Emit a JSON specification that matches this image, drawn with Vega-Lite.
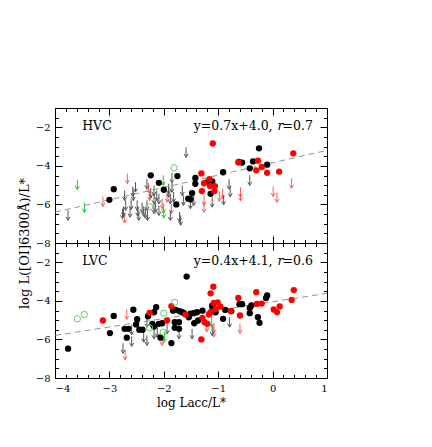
{
  "$schema": "https://vega.github.io/schema/vega-lite/v6.json",
  "padding": {"left": 17, "top": 107, "right": 5, "bottom": 5},
  "config": {
    "view": {"stroke": "black", "strokeWidth": 1},
    "font": "DejaVu Serif",
    "axis": {"labelFont": "DejaVu Serif", "titleFont": "DejaVu Serif", "labelFontSize": 10, "titleFontSize": 13, "titleFontWeight": "normal", "labelColor": "black", "titleColor": "black", "tickColor": "black", "domain": false, "grid": false, "format": "~g"}
  },
  "datasets": {
    "fit": [
      {"p": "HVC", "x": -4, "y": -6.40}, {"p": "HVC", "x": 1, "y": -3.20},
      {"p": "LVC", "x": -4, "y": -5.79}, {"p": "LVC", "x": 1, "y": -3.61}
    ],
    "lab": [
      {"p": "HVC", "name": "HVC", "eq": "y=0.7x+4.0,", "r": "r", "rv": "=0.7"},
      {"p": "LVC", "name": "LVC", "eq": "y=0.4x+4.1,", "r": "r", "rv": "=0.6"}
    ],
    "pts": [
      {"p":"HVC","c":"k","x":-3.00,"y":-5.76},{"p":"HVC","c":"k","x":-2.92,"y":-5.21},{"p":"HVC","c":"k","x":-2.24,"y":-4.49},{"p":"HVC","c":"k","x":-2.09,"y":-4.88},{"p":"HVC","c":"k","x":-2.00,"y":-5.24},{"p":"HVC","c":"k","x":-1.75,"y":-4.53},{"p":"HVC","c":"k","x":-1.77,"y":-6.00},{"p":"HVC","c":"k","x":-1.55,"y":-5.70},{"p":"HVC","c":"k","x":-1.51,"y":-5.73},{"p":"HVC","c":"k","x":-1.48,"y":-5.41},{"p":"HVC","c":"k","x":-1.42,"y":-4.63},{"p":"HVC","c":"k","x":-1.42,"y":-4.93},{"p":"HVC","c":"k","x":-1.20,"y":-4.84},{"p":"HVC","c":"k","x":-1.11,"y":-4.81},{"p":"HVC","c":"k","x":-1.14,"y":-5.45},{"p":"HVC","c":"k","x":-0.91,"y":-4.33},{"p":"HVC","c":"k","x":-0.62,"y":-3.80},{"p":"HVC","c":"k","x":-0.56,"y":-3.83},{"p":"HVC","c":"k","x":-0.36,"y":-3.77},{"p":"HVC","c":"k","x":-0.25,"y":-3.09},{"p":"HVC","c":"k","x":-0.10,"y":-3.94},{"p":"HVC","c":"k","x":-0.42,"y":-4.13},
      {"p":"HVC","c":"r","x":-1.10,"y":-2.84},{"p":"HVC","c":"r","x":0.38,"y":-3.35},{"p":"HVC","c":"r","x":-0.63,"y":-3.82},{"p":"HVC","c":"r","x":-0.27,"y":-3.73},{"p":"HVC","c":"r","x":-0.20,"y":-4.06},{"p":"HVC","c":"r","x":-0.30,"y":-4.23},{"p":"HVC","c":"r","x":-0.10,"y":-4.36},{"p":"HVC","c":"r","x":0.12,"y":-4.30},{"p":"HVC","c":"r","x":-1.31,"y":-4.39},{"p":"HVC","c":"r","x":-1.16,"y":-4.69},{"p":"HVC","c":"r","x":-1.26,"y":-4.90},{"p":"HVC","c":"r","x":-1.15,"y":-5.05},{"p":"HVC","c":"r","x":-1.06,"y":-5.05},{"p":"HVC","c":"r","x":-1.30,"y":-5.31},{"p":"HVC","c":"r","x":-1.07,"y":-5.31},
      {"p":"HVC","c":"g","x":-1.81,"y":-4.10},{"p":"HVC","c":"g","x":-2.26,"y":-6.12},
      {"p":"HVC","c":"ug","x":-3.59,"y":-4.97},{"p":"HVC","c":"ug","x":-3.46,"y":-6.15},{"p":"HVC","c":"ug","x":-2.01,"y":-4.75},{"p":"HVC","c":"ug","x":-2.01,"y":-6.20},{"p":"HVC","c":"ug","x":-2.00,"y":-6.45},
      {"p":"HVC","c":"ur","x":-3.12,"y":-5.85},{"p":"HVC","c":"ur","x":-2.67,"y":-4.66},{"p":"HVC","c":"ur","x":-2.72,"y":-6.70},{"p":"HVC","c":"ur","x":-2.28,"y":-5.14},{"p":"HVC","c":"ur","x":-2.26,"y":-5.54},{"p":"HVC","c":"ur","x":-2.03,"y":-5.96},{"p":"HVC","c":"ur","x":-1.94,"y":-5.62},{"p":"HVC","c":"ur","x":-1.86,"y":-6.22},{"p":"HVC","c":"ur","x":-1.26,"y":-5.79},{"p":"HVC","c":"ur","x":-1.26,"y":-6.15},{"p":"HVC","c":"ur","x":-0.98,"y":-5.58},{"p":"HVC","c":"ur","x":-0.92,"y":-5.45},{"p":"HVC","c":"ur","x":-0.59,"y":-5.37},{"p":"HVC","c":"ur","x":-0.59,"y":-5.56},{"p":"HVC","c":"ur","x":0.35,"y":-4.90},{"p":"HVC","c":"ur","x":0.01,"y":-5.33},{"p":"HVC","c":"ur","x":0.08,"y":-5.64},
      {"p":"HVC","c":"uk","x":-3.76,"y":-6.57},{"p":"HVC","c":"uk","x":-2.52,"y":-5.10},{"p":"HVC","c":"uk","x":-2.57,"y":-5.33},{"p":"HVC","c":"uk","x":-2.56,"y":-5.54},{"p":"HVC","c":"uk","x":-2.72,"y":-5.54},{"p":"HVC","c":"uk","x":-2.74,"y":-6.36},{"p":"HVC","c":"uk","x":-2.70,"y":-6.05},{"p":"HVC","c":"uk","x":-2.60,"y":-6.00},{"p":"HVC","c":"uk","x":-2.49,"y":-6.05},{"p":"HVC","c":"uk","x":-2.48,"y":-6.35},{"p":"HVC","c":"uk","x":-2.40,"y":-6.17},{"p":"HVC","c":"uk","x":-2.37,"y":-6.35},{"p":"HVC","c":"uk","x":-2.62,"y":-6.40},{"p":"HVC","c":"uk","x":-2.76,"y":-6.48},{"p":"HVC","c":"uk","x":-2.46,"y":-6.57},{"p":"HVC","c":"uk","x":-2.34,"y":-6.45},{"p":"HVC","c":"uk","x":-2.31,"y":-4.93},{"p":"HVC","c":"uk","x":-2.24,"y":-5.40},{"p":"HVC","c":"uk","x":-2.18,"y":-5.28},{"p":"HVC","c":"uk","x":-2.13,"y":-5.54},{"p":"HVC","c":"uk","x":-2.18,"y":-5.71},{"p":"HVC","c":"uk","x":-2.09,"y":-5.71},{"p":"HVC","c":"uk","x":-2.31,"y":-6.05},{"p":"HVC","c":"uk","x":-2.15,"y":-6.14},{"p":"HVC","c":"uk","x":-2.09,"y":-6.31},{"p":"HVC","c":"uk","x":-2.18,"y":-6.22},{"p":"HVC","c":"uk","x":-2.30,"y":-6.57},{"p":"HVC","c":"uk","x":-1.91,"y":-5.19},{"p":"HVC","c":"uk","x":-1.91,"y":-5.37},{"p":"HVC","c":"uk","x":-1.85,"y":-5.11},{"p":"HVC","c":"uk","x":-1.82,"y":-5.62},{"p":"HVC","c":"uk","x":-1.88,"y":-5.71},{"p":"HVC","c":"uk","x":-1.85,"y":-4.62},{"p":"HVC","c":"uk","x":-1.66,"y":-5.28},{"p":"HVC","c":"uk","x":-1.64,"y":-5.79},{"p":"HVC","c":"uk","x":-1.88,"y":-6.57},{"p":"HVC","c":"uk","x":-1.71,"y":-6.65},{"p":"HVC","c":"uk","x":-1.69,"y":-6.82},{"p":"HVC","c":"uk","x":-1.51,"y":-5.96},{"p":"HVC","c":"uk","x":-1.45,"y":-5.79},{"p":"HVC","c":"uk","x":-1.11,"y":-5.88},{"p":"HVC","c":"uk","x":-1.59,"y":-3.30},{"p":"HVC","c":"uk","x":-0.90,"y":-5.76},{"p":"HVC","c":"uk","x":-0.80,"y":-4.95},{"p":"HVC","c":"uk","x":-0.78,"y":-5.35},{"p":"HVC","c":"uk","x":-0.42,"y":-4.75},
      {"p":"LVC","c":"k","x":-3.76,"y":-6.48},{"p":"LVC","c":"k","x":-2.99,"y":-5.67},{"p":"LVC","c":"k","x":-2.92,"y":-4.78},{"p":"LVC","c":"k","x":-2.56,"y":-4.46},{"p":"LVC","c":"k","x":-2.72,"y":-5.45},{"p":"LVC","c":"k","x":-2.65,"y":-5.45},{"p":"LVC","c":"k","x":-2.68,"y":-5.91},{"p":"LVC","c":"k","x":-2.49,"y":-4.95},{"p":"LVC","c":"k","x":-2.51,"y":-5.22},{"p":"LVC","c":"k","x":-2.45,"y":-5.50},{"p":"LVC","c":"k","x":-2.39,"y":-5.50},{"p":"LVC","c":"k","x":-2.29,"y":-4.80},{"p":"LVC","c":"k","x":-2.14,"y":-4.33},{"p":"LVC","c":"k","x":-2.18,"y":-4.59},{"p":"LVC","c":"k","x":-2.21,"y":-5.19},{"p":"LVC","c":"k","x":-2.18,"y":-5.33},{"p":"LVC","c":"k","x":-2.09,"y":-5.19},{"p":"LVC","c":"k","x":-2.03,"y":-5.16},{"p":"LVC","c":"k","x":-2.06,"y":-5.91},{"p":"LVC","c":"k","x":-1.86,"y":-6.19},{"p":"LVC","c":"k","x":-1.83,"y":-4.51},{"p":"LVC","c":"k","x":-1.78,"y":-4.47},{"p":"LVC","c":"k","x":-1.71,"y":-4.54},{"p":"LVC","c":"k","x":-1.66,"y":-4.59},{"p":"LVC","c":"k","x":-1.63,"y":-4.64},{"p":"LVC","c":"k","x":-1.54,"y":-4.85},{"p":"LVC","c":"k","x":-1.58,"y":-2.74},{"p":"LVC","c":"k","x":-1.80,"y":-5.11},{"p":"LVC","c":"k","x":-1.72,"y":-5.11},{"p":"LVC","c":"k","x":-1.80,"y":-5.40},{"p":"LVC","c":"k","x":-1.72,"y":-5.45},{"p":"LVC","c":"k","x":-1.51,"y":-4.67},{"p":"LVC","c":"k","x":-1.45,"y":-4.64},{"p":"LVC","c":"k","x":-1.39,"y":-4.59},{"p":"LVC","c":"k","x":-1.29,"y":-4.51},{"p":"LVC","c":"k","x":-1.44,"y":-5.16},{"p":"LVC","c":"k","x":-1.37,"y":-5.02},{"p":"LVC","c":"k","x":-1.11,"y":-4.25},{"p":"LVC","c":"k","x":-1.10,"y":-4.39},{"p":"LVC","c":"k","x":-1.05,"y":-4.59},{"p":"LVC","c":"k","x":-0.91,"y":-4.93},{"p":"LVC","c":"k","x":-0.87,"y":-4.47},{"p":"LVC","c":"k","x":-0.76,"y":-4.54},{"p":"LVC","c":"k","x":-0.61,"y":-4.17},{"p":"LVC","c":"k","x":-0.56,"y":-4.17},{"p":"LVC","c":"k","x":-0.39,"y":-4.24},{"p":"LVC","c":"k","x":-0.42,"y":-4.37},{"p":"LVC","c":"k","x":-0.42,"y":-4.64},{"p":"LVC","c":"k","x":-0.27,"y":-4.85},{"p":"LVC","c":"k","x":-0.24,"y":-5.14},{"p":"LVC","c":"k","x":-0.10,"y":-3.72},{"p":"LVC","c":"k","x":-0.12,"y":-3.85},
      {"p":"LVC","c":"r","x":-3.12,"y":-5.02},{"p":"LVC","c":"r","x":-2.26,"y":-4.62},{"p":"LVC","c":"r","x":-1.94,"y":-5.02},{"p":"LVC","c":"r","x":-1.86,"y":-4.28},{"p":"LVC","c":"r","x":-1.60,"y":-4.71},{"p":"LVC","c":"r","x":-1.09,"y":-3.27},{"p":"LVC","c":"r","x":-1.14,"y":-3.61},{"p":"LVC","c":"r","x":-1.08,"y":-4.11},{"p":"LVC","c":"r","x":-1.01,"y":-4.08},{"p":"LVC","c":"r","x":-0.96,"y":-4.30},{"p":"LVC","c":"r","x":-1.05,"y":-4.42},{"p":"LVC","c":"r","x":-1.29,"y":-4.88},{"p":"LVC","c":"r","x":-1.25,"y":-5.11},{"p":"LVC","c":"r","x":-1.20,"y":-5.19},{"p":"LVC","c":"r","x":-1.14,"y":-4.59},{"p":"LVC","c":"r","x":-1.17,"y":-4.71},{"p":"LVC","c":"r","x":-1.31,"y":-6.00},{"p":"LVC","c":"r","x":-0.30,"y":-3.55},{"p":"LVC","c":"r","x":0.39,"y":-3.44},{"p":"LVC","c":"r","x":0.35,"y":-3.95},{"p":"LVC","c":"r","x":-0.63,"y":-3.85},{"p":"LVC","c":"r","x":-0.29,"y":-4.16},{"p":"LVC","c":"r","x":-0.20,"y":-4.14},{"p":"LVC","c":"r","x":0.13,"y":-4.29},{"p":"LVC","c":"r","x":0.02,"y":-4.45},{"p":"LVC","c":"r","x":0.08,"y":-4.58},{"p":"LVC","c":"r","x":-0.77,"y":-4.52},{"p":"LVC","c":"r","x":-0.60,"y":-4.76},
      {"p":"LVC","c":"g","x":-3.59,"y":-4.93},{"p":"LVC","c":"g","x":-3.46,"y":-4.71},{"p":"LVC","c":"g","x":-2.26,"y":-5.40},{"p":"LVC","c":"g","x":-2.00,"y":-4.64},{"p":"LVC","c":"g","x":-2.01,"y":-5.62},{"p":"LVC","c":"g","x":-1.80,"y":-4.08},
      {"p":"LVC","c":"ug","x":-1.99,"y":-5.88},{"p":"LVC","c":"ug","x":-1.12,"y":-5.10},
      {"p":"LVC","c":"ur","x":-2.68,"y":-4.70},{"p":"LVC","c":"ur","x":-2.71,"y":-6.80},{"p":"LVC","c":"ur","x":-2.03,"y":-6.05},{"p":"LVC","c":"ur","x":-1.21,"y":-5.35},{"p":"LVC","c":"ur","x":-1.08,"y":-5.42},{"p":"LVC","c":"ur","x":-1.08,"y":-5.62},{"p":"LVC","c":"ur","x":-0.60,"y":-5.43},
      {"p":"LVC","c":"uk","x":-2.59,"y":-5.50},{"p":"LVC","c":"uk","x":-2.59,"y":-6.10},{"p":"LVC","c":"uk","x":-2.75,"y":-6.46},{"p":"LVC","c":"uk","x":-2.37,"y":-5.88},{"p":"LVC","c":"uk","x":-2.31,"y":-6.05},{"p":"LVC","c":"uk","x":-2.31,"y":-5.11},{"p":"LVC","c":"uk","x":-2.18,"y":-5.71},{"p":"LVC","c":"uk","x":-2.12,"y":-5.62},{"p":"LVC","c":"uk","x":-1.94,"y":-5.45},{"p":"LVC","c":"uk","x":-1.72,"y":-5.71},{"p":"LVC","c":"uk","x":-1.48,"y":-5.71},{"p":"LVC","c":"uk","x":-1.11,"y":-5.54},{"p":"LVC","c":"uk","x":-0.79,"y":-5.10}
    ]
  },
  "spacing": 0,
  "bounds": "flush",
  "vconcat": [
    {
      "width": 272, "height": 135,
      "resolve": {"axis": {"x": "independent", "y": "independent"}},
      "layer": [
        {
          "data": {"name": "pts"},
          "transform": [{"filter": "datum.p === 'HVC' && (datum.c === 'uk' || datum.c === 'ur' || datum.c === 'ug')"}],
          "mark": {"type": "point", "filled": false, "strokeWidth": 1, "size": 100, "opacity": 1},
          "encoding": {
            "x": {"field": "x", "type": "quantitative", "scale": {"domain": [-4, 1], "nice": false, "zero": false},
                  "axis": {"orient": "bottom", "labels": false, "title": null, "values": [-4,-3.8,-3.6,-3.4,-3.2,-3,-2.8,-2.6,-2.4,-2.2,-2,-1.8,-1.6,-1.4,-1.2,-1,-0.8,-0.6,-0.4,-0.2,0,0.2,0.4,0.6,0.8,1],
                           "tickSize": {"condition": {"test": "abs(datum.value - round(datum.value)) < 0.001", "value": -7}, "value": -3.5}}},
            "y": {"field": "y", "type": "quantitative", "scale": {"domain": [-8, -1], "nice": false, "zero": false},
                  "axis": {"orient": "left", "values": [-8,-7.5,-7,-6.5,-6,-5.5,-5,-4.5,-4,-3.5,-3,-2.5,-2,-1.5,-1],
                           "labelExpr": "abs(datum.value/2 - round(datum.value/2)) < 0.001 ? datum.label : ''",
                           "tickSize": {"condition": {"test": "abs(datum.value/2 - round(datum.value/2)) < 0.001", "value": -7}, "value": -3.5},
                           "labelPadding": 12,
                           "title": "log L([OI]6300Å)/L*", "titleY": 135, "titleX": -24}},
            "color": {"field": "c", "type": "nominal", "legend": null, "scale": {"domain": ["k","r","g","uk","ur","ug"], "range": ["#000000","#ff0000","#66cc66","#555555","#ff5c5c","#22cc22"]}},
            "shape": {"field": "c", "type": "nominal", "legend": null, "scale": {"domain": ["k","r","g","uk","ur","ug"], "range": ["circle","circle","circle","M0,-1L0,1M-0.4,0.3L0,1L0.4,0.3","M0,-1L0,1M-0.4,0.3L0,1L0.4,0.3","M0,-1L0,1M-0.4,0.3L0,1L0.4,0.3"]}}
          }
        },
        {
          "data": {"name": "fit"},
          "transform": [{"filter": "datum.p === 'HVC'"}],
          "mark": {"type": "line", "strokeDash": [6, 4], "color": "#777777", "strokeWidth": 0.8},
          "encoding": {
            "x": {"field": "x", "type": "quantitative",
                  "axis": {"orient": "top", "labels": false, "title": null, "values": [-4,-3.8,-3.6,-3.4,-3.2,-3,-2.8,-2.6,-2.4,-2.2,-2,-1.8,-1.6,-1.4,-1.2,-1,-0.8,-0.6,-0.4,-0.2,0,0.2,0.4,0.6,0.8,1],
                           "tickSize": {"condition": {"test": "abs(datum.value - round(datum.value)) < 0.001", "value": -7}, "value": -3.5}}},
            "y": {"field": "y", "type": "quantitative",
                  "axis": {"orient": "right", "labels": false, "title": null, "values": [-8,-7.5,-7,-6.5,-6,-5.5,-5,-4.5,-4,-3.5,-3,-2.5,-2,-1.5,-1],
                           "tickSize": {"condition": {"test": "abs(datum.value/2 - round(datum.value/2)) < 0.001", "value": -7}, "value": -3.5}}}
          }
        },
        {
          "data": {"name": "pts"},
          "transform": [{"filter": "datum.p === 'HVC' && (datum.c === 'k' || datum.c === 'r')"}],
          "mark": {"type": "point", "filled": true, "size": 40, "opacity": 1},
          "encoding": {
            "x": {"field": "x", "type": "quantitative", "axis": null},
            "y": {"field": "y", "type": "quantitative", "axis": null},
            "color": {"field": "c", "type": "nominal", "legend": null},
            "shape": {"field": "c", "type": "nominal", "legend": null}
          }
        },
        {
          "data": {"name": "pts"},
          "transform": [{"filter": "datum.p === 'HVC' && datum.c === 'g'"}],
          "mark": {"type": "point", "filled": false, "size": 40, "strokeWidth": 1, "opacity": 1},
          "encoding": {
            "x": {"field": "x", "type": "quantitative", "axis": null},
            "y": {"field": "y", "type": "quantitative", "axis": null},
            "color": {"field": "c", "type": "nominal", "legend": null},
            "shape": {"field": "c", "type": "nominal", "legend": null}
          }
        },
        {
          "data": {"name": "lab"},
          "transform": [{"filter": "datum.p === 'HVC'"}],
          "mark": {"type": "text", "align": "left", "baseline": "middle", "fontSize": 12.5, "font": "DejaVu Serif", "color": "black"},
          "encoding": {"x": {"datum": -3.5, "type": "quantitative", "axis": null}, "y": {"datum": -1.95, "type": "quantitative", "axis": null}, "text": {"field": "name"}}
        },
        {
          "data": {"name": "lab"},
          "transform": [{"filter": "datum.p === 'HVC'"}],
          "mark": {"type": "text", "align": "right", "baseline": "middle", "fontSize": 12.5, "font": "DejaVu Serif", "color": "black"},
          "encoding": {"x": {"datum": 0, "type": "quantitative", "axis": null}, "y": {"datum": -1.95, "type": "quantitative", "axis": null}, "text": {"field": "eq"}}
        },
        {
          "data": {"name": "lab"},
          "transform": [{"filter": "datum.p === 'HVC'"}],
          "mark": {"type": "text", "align": "left", "baseline": "middle", "fontSize": 12.5, "font": "DejaVu Serif", "fontStyle": "italic", "color": "black", "dx": 5},
          "encoding": {"x": {"datum": 0, "type": "quantitative", "axis": null}, "y": {"datum": -1.95, "type": "quantitative", "axis": null}, "text": {"field": "r"}}
        },
        {
          "data": {"name": "lab"},
          "transform": [{"filter": "datum.p === 'HVC'"}],
          "mark": {"type": "text", "align": "left", "baseline": "middle", "fontSize": 12.5, "font": "DejaVu Serif", "color": "black", "dx": 10},
          "encoding": {"x": {"datum": 0, "type": "quantitative", "axis": null}, "y": {"datum": -1.95, "type": "quantitative", "axis": null}, "text": {"field": "rv"}}
        }
      ]
    },
    {
      "width": 272, "height": 135,
      "resolve": {"axis": {"x": "independent", "y": "independent"}},
      "layer": [
        {
          "data": {"name": "pts"},
          "transform": [{"filter": "datum.p === 'LVC' && (datum.c === 'uk' || datum.c === 'ur' || datum.c === 'ug')"}],
          "mark": {"type": "point", "filled": false, "strokeWidth": 1, "size": 100, "opacity": 1},
          "encoding": {
            "x": {"field": "x", "type": "quantitative", "scale": {"domain": [-4, 1], "nice": false, "zero": false},
                  "axis": {"orient": "bottom", "title": "log Lacc/L*", "values": [-4,-3.8,-3.6,-3.4,-3.2,-3,-2.8,-2.6,-2.4,-2.2,-2,-1.8,-1.6,-1.4,-1.2,-1,-0.8,-0.6,-0.4,-0.2,0,0.2,0.4,0.6,0.8,1],
                           "labelExpr": "abs(datum.value - round(datum.value)) < 0.001 ? datum.label : ''",
                           "labelPadding": 12, "titleFontSize": 12,
                           "tickSize": {"condition": {"test": "abs(datum.value - round(datum.value)) < 0.001", "value": -7}, "value": -3.5}}},
            "y": {"field": "y", "type": "quantitative", "scale": {"domain": [-8, -1], "nice": false, "zero": false},
                  "axis": {"orient": "left", "title": null, "values": [-8,-7.5,-7,-6.5,-6,-5.5,-5,-4.5,-4,-3.5,-3,-2.5,-2,-1.5,-1],
                           "labelExpr": "abs(datum.value/2 - round(datum.value/2)) < 0.001 ? datum.label : ''",
                           "labelPadding": 12,
                           "tickSize": {"condition": {"test": "abs(datum.value/2 - round(datum.value/2)) < 0.001", "value": -7}, "value": -3.5}}},
            "color": {"field": "c", "type": "nominal", "legend": null, "scale": {"domain": ["k","r","g","uk","ur","ug"], "range": ["#000000","#ff0000","#66cc66","#555555","#ff5c5c","#22cc22"]}},
            "shape": {"field": "c", "type": "nominal", "legend": null, "scale": {"domain": ["k","r","g","uk","ur","ug"], "range": ["circle","circle","circle","M0,-1L0,1M-0.4,0.3L0,1L0.4,0.3","M0,-1L0,1M-0.4,0.3L0,1L0.4,0.3","M0,-1L0,1M-0.4,0.3L0,1L0.4,0.3"]}}
          }
        },
        {
          "data": {"name": "fit"},
          "transform": [{"filter": "datum.p === 'LVC'"}],
          "mark": {"type": "line", "strokeDash": [6, 4], "color": "#777777", "strokeWidth": 0.8},
          "encoding": {
            "x": {"field": "x", "type": "quantitative",
                  "axis": {"orient": "top", "labels": false, "title": null, "values": [-4,-3.8,-3.6,-3.4,-3.2,-3,-2.8,-2.6,-2.4,-2.2,-2,-1.8,-1.6,-1.4,-1.2,-1,-0.8,-0.6,-0.4,-0.2,0,0.2,0.4,0.6,0.8,1],
                           "tickSize": {"condition": {"test": "abs(datum.value - round(datum.value)) < 0.001", "value": -7}, "value": -3.5}}},
            "y": {"field": "y", "type": "quantitative",
                  "axis": {"orient": "right", "labels": false, "title": null, "values": [-8,-7.5,-7,-6.5,-6,-5.5,-5,-4.5,-4,-3.5,-3,-2.5,-2,-1.5,-1],
                           "tickSize": {"condition": {"test": "abs(datum.value/2 - round(datum.value/2)) < 0.001", "value": -7}, "value": -3.5}}}
          }
        },
        {
          "data": {"name": "pts"},
          "transform": [{"filter": "datum.p === 'LVC' && (datum.c === 'k' || datum.c === 'r')"}],
          "mark": {"type": "point", "filled": true, "size": 40, "opacity": 1},
          "encoding": {
            "x": {"field": "x", "type": "quantitative", "axis": null},
            "y": {"field": "y", "type": "quantitative", "axis": null},
            "color": {"field": "c", "type": "nominal", "legend": null},
            "shape": {"field": "c", "type": "nominal", "legend": null}
          }
        },
        {
          "data": {"name": "pts"},
          "transform": [{"filter": "datum.p === 'LVC' && datum.c === 'g'"}],
          "mark": {"type": "point", "filled": false, "size": 40, "strokeWidth": 1, "opacity": 1},
          "encoding": {
            "x": {"field": "x", "type": "quantitative", "axis": null},
            "y": {"field": "y", "type": "quantitative", "axis": null},
            "color": {"field": "c", "type": "nominal", "legend": null},
            "shape": {"field": "c", "type": "nominal", "legend": null}
          }
        },
        {
          "data": {"name": "lab"},
          "transform": [{"filter": "datum.p === 'LVC'"}],
          "mark": {"type": "text", "align": "left", "baseline": "middle", "fontSize": 12.5, "font": "DejaVu Serif", "color": "black"},
          "encoding": {"x": {"datum": -3.5, "type": "quantitative", "axis": null}, "y": {"datum": -1.95, "type": "quantitative", "axis": null}, "text": {"field": "name"}}
        },
        {
          "data": {"name": "lab"},
          "transform": [{"filter": "datum.p === 'LVC'"}],
          "mark": {"type": "text", "align": "right", "baseline": "middle", "fontSize": 12.5, "font": "DejaVu Serif", "color": "black"},
          "encoding": {"x": {"datum": 0, "type": "quantitative", "axis": null}, "y": {"datum": -1.95, "type": "quantitative", "axis": null}, "text": {"field": "eq"}}
        },
        {
          "data": {"name": "lab"},
          "transform": [{"filter": "datum.p === 'LVC'"}],
          "mark": {"type": "text", "align": "left", "baseline": "middle", "fontSize": 12.5, "font": "DejaVu Serif", "fontStyle": "italic", "color": "black", "dx": 5},
          "encoding": {"x": {"datum": 0, "type": "quantitative", "axis": null}, "y": {"datum": -1.95, "type": "quantitative", "axis": null}, "text": {"field": "r"}}
        },
        {
          "data": {"name": "lab"},
          "transform": [{"filter": "datum.p === 'LVC'"}],
          "mark": {"type": "text", "align": "left", "baseline": "middle", "fontSize": 12.5, "font": "DejaVu Serif", "color": "black", "dx": 10},
          "encoding": {"x": {"datum": 0, "type": "quantitative", "axis": null}, "y": {"datum": -1.95, "type": "quantitative", "axis": null}, "text": {"field": "rv"}}
        }
      ]
    }
  ]
}
